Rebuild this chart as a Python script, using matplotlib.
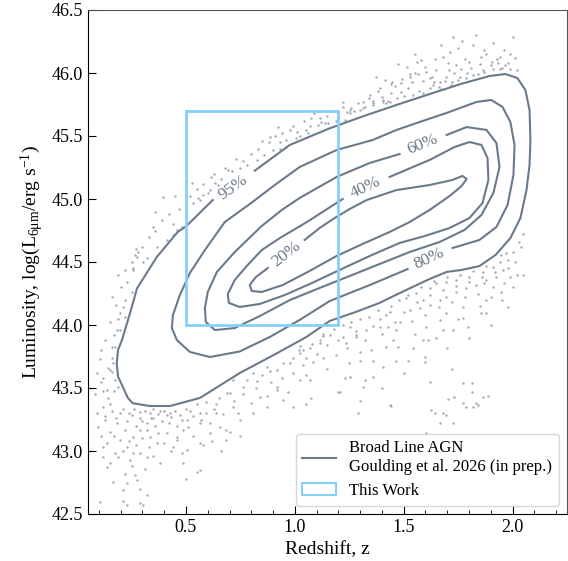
import matplotlib
matplotlib.use("Agg")
import matplotlib.pyplot as plt
import numpy as np
from matplotlib.lines import Line2D
from matplotlib.patches import Patch, Rectangle

plt.rcParams['font.family'] = ['Liberation Serif', 'DejaVu Serif']
plt.rcParams['mathtext.fontset'] = 'custom'
plt.rcParams['mathtext.rm'] = 'Liberation Serif'
plt.rcParams['mathtext.it'] = 'Liberation Serif:italic'

# broad line AGN lying outside the outer contour (redshift, log L6um)
sample_pts = [
    (1.726, 46.288), (2.001, 46.288), (1.769, 46.256), (1.550, 46.151), (1.714, 46.164), (1.871, 46.183),
    (1.986, 46.148), (1.940, 46.124), (1.473, 46.069), (1.517, 46.045), (1.561, 46.090), (1.646, 46.109),
    (1.703, 46.077), (1.802, 46.090), (1.856, 46.124), (1.906, 46.090), (1.932, 46.077), (1.963, 46.066),
    (1.371, 45.966), (1.412, 45.944), (1.446, 45.926), (1.486, 45.918), (1.527, 45.971), (1.565, 45.992),
    (1.604, 46.010), (1.619, 45.958), (1.665, 45.931), (1.695, 45.971), (1.733, 45.998), (1.764, 46.029),
    (1.817, 45.984), (1.863, 46.020), (1.909, 46.035), (1.940, 46.030), (1.344, 45.825), (1.313, 45.772),
    (1.359, 45.780), (1.405, 45.786), (1.428, 45.780), (1.489, 45.852), (1.542, 45.825), (1.588, 45.839),
    (1.634, 45.905), (1.672, 45.871), (1.718, 45.905), (1.749, 45.944), (1.787, 45.958), (1.260, 45.720),
    (1.298, 45.706), (1.221, 45.772), (1.252, 45.680), (1.229, 45.627),
    (1.20, 45.65), (1.24, 45.69), (1.27, 45.70), (1.29, 45.76), (1.32, 45.73), (1.34, 45.80), (1.36, 45.75),
    (1.38, 45.86), (1.40, 45.81), (1.42, 45.76), (1.44, 45.84), (1.46, 45.90), (1.47, 45.80), (1.49, 45.95),
    (1.50, 45.82), (1.52, 45.88), (1.54, 45.93), (1.55, 46.00), (1.57, 45.86), (1.59, 45.94), (1.60, 46.05),
    (1.62, 45.88), (1.63, 45.97), (1.65, 46.02), (1.66, 45.89), (1.68, 46.13), (1.69, 45.94), (1.71, 46.02),
    (1.72, 45.93), (1.74, 46.06), (1.75, 46.20), (1.76, 45.97), (1.78, 46.11), (1.79, 46.00), (1.81, 46.04),
    (1.82, 46.22), (1.84, 45.99), (1.85, 46.07), (1.87, 46.01), (1.88, 46.15), (1.90, 46.06), (1.91, 46.24),
    (1.93, 46.11), (1.95, 46.04), (1.96, 46.18), (1.98, 46.08), (1.99, 46.03), (2.01, 46.12), (2.02, 46.02),
    (1.67, 46.22), (1.58, 46.10), (1.83, 46.30), (1.64, 45.93), (1.53, 45.99), (1.44, 45.91), (1.39, 45.88),
    (0.923, 45.574), (0.977, 45.548), (0.885, 45.495), (0.931, 45.455), (0.900, 45.389), (0.961, 45.415),
    (1.022, 45.500), (1.061, 45.521), (1.106, 45.587), (1.137, 45.601), (1.114, 45.640), (1.076, 45.640),
    (1.007, 45.481), (0.931, 45.400), (1.053, 45.548), (1.152, 45.600), (0.824, 45.310), (0.778, 45.270),
    (0.747, 45.244), (0.694, 45.230), (0.617, 45.177), (0.633, 45.124), (0.610, 45.071), (0.648, 45.111),
    (0.556, 45.010), (0.533, 44.970), (0.579, 45.030), (1.221, 45.733), (1.252, 45.706), (1.313, 45.720),
    (1.359, 45.759), (1.405, 45.770), (1.435, 45.772),
    (0.30, 44.62), (0.33, 44.70), (0.36, 44.75), (0.39, 44.83), (0.42, 44.88), (0.44, 44.80), (0.47, 44.92),
    (0.50, 44.88), (0.52, 45.02), (0.55, 45.08), (0.58, 45.12), (0.60, 45.05), (0.63, 45.20), (0.66, 45.16),
    (0.68, 45.25), (0.71, 45.22), (0.73, 45.32), (0.76, 45.30), (0.80, 45.36), (0.83, 45.40), (0.86, 45.35),
    (0.88, 45.45), (0.91, 45.50), (0.94, 45.52), (0.96, 45.47), (0.99, 45.58), (1.01, 45.53), (1.04, 45.62),
    (1.07, 45.58), (1.09, 45.68), (1.12, 45.61), (1.15, 45.66), (1.17, 45.70), (1.19, 45.62), (0.27, 44.60),
    (0.36, 44.90), (0.45, 45.02), (0.85, 45.46),
    (0.396, 45.013), (0.350, 44.780), (0.365, 44.621), (0.273, 44.542), (0.319, 44.529), (0.258, 44.450),
    (0.441, 44.714), (0.411, 44.675), (0.480, 44.780), (0.457, 44.754), (0.526, 45.124), (0.564, 44.992),
    (0.266, 44.556), (0.304, 44.503), (0.258, 44.437), (0.250, 44.265), (0.220, 44.198), (0.220, 44.066),
    (0.195, 43.960), (0.174, 43.823), (0.105, 43.732), (0.159, 43.625), (0.189, 43.505), (0.120, 43.479),
    (0.12, 43.58), (0.14, 43.66), (0.16, 43.74), (0.13, 43.88), (0.17, 43.92), (0.15, 44.02), (0.19, 44.05),
    (0.18, 44.16), (0.21, 44.14), (0.16, 44.22), (0.20, 44.30), (0.23, 44.34), (0.22, 44.44), (0.25, 44.50),
    (0.28, 44.58), (0.19, 44.40), (0.11, 43.80), (0.09, 43.62), (0.08, 43.45), (0.14, 43.42), (0.17, 43.48),
    (0.11, 43.55),
    (0.151, 43.373), (0.128, 43.280), (0.197, 43.302), (0.250, 43.288), (0.289, 43.262), (0.334, 43.302),
    (0.380, 43.315), (0.426, 43.302), (0.472, 43.288), (0.518, 43.315), (0.564, 43.302), (0.640, 43.373),
    (0.701, 43.458), (0.762, 43.505), (0.824, 43.558), (0.885, 43.637), (0.916, 43.505), (0.977, 43.696),
    (1.038, 43.802), (1.114, 43.881), (1.053, 43.373), (0.870, 43.347), (1.022, 43.830), (1.129, 43.910),
    (0.098, 43.193), (0.136, 43.060), (0.151, 42.902), (0.166, 42.756), (0.105, 42.597), (0.212, 42.690),
    (0.228, 42.743), (0.273, 42.770), (0.266, 42.810), (0.289, 42.585), (0.319, 42.651), (0.304, 42.571),
    (0.182, 43.220), (0.220, 43.167), (0.197, 43.087), (0.228, 43.034), (0.258, 42.981), (0.258, 43.113),
    (0.289, 43.167), (0.319, 43.220), (0.334, 43.113), (0.365, 43.060), (0.411, 43.140), (0.457, 43.113),
    (0.487, 43.167), (0.480, 42.981), (0.487, 42.902), (0.549, 42.836), (0.564, 42.849), (0.564, 43.220),
    (0.610, 43.140), (0.656, 43.193), (0.701, 43.154), (0.686, 43.087), (0.747, 43.246), (0.808, 43.299),
    (0.946, 43.405), (0.916, 43.484), (0.839, 43.431), (0.717, 43.352), (0.640, 43.299), (0.120, 43.034),
    (0.136, 42.876), (0.174, 42.981), (0.243, 42.929), (0.289, 42.981), (0.441, 43.034), (0.350, 43.262),
    (0.411, 43.288), (0.564, 43.060), (0.503, 43.008), (0.380, 42.902), (0.319, 42.955), (0.151, 43.643),
    (0.136, 43.484), (0.120, 43.352), (0.174, 43.563), (0.159, 43.823), (0.182, 43.960), (0.197, 44.093),
    (0.166, 43.696),
    (0.16, 43.32), (0.18, 43.26), (0.21, 43.33), (0.23, 43.24), (0.24, 43.30), (0.26, 43.33), (0.27, 43.20),
    (0.29, 43.31), (0.30, 43.24), (0.31, 43.32), (0.32, 43.17), (0.34, 43.26), (0.35, 43.33), (0.36, 43.20),
    (0.37, 43.29), (0.39, 43.24), (0.40, 43.32), (0.42, 43.22), (0.43, 43.27), (0.45, 43.32), (0.46, 43.20),
    (0.48, 43.25), (0.50, 43.33), (0.51, 43.19), (0.53, 43.28), (0.55, 43.37), (0.57, 43.25), (0.59, 43.39),
    (0.61, 43.22), (0.63, 43.33), (0.65, 43.42), (0.67, 43.29), (0.69, 43.46), (0.72, 43.40), (0.74, 43.30),
    (0.76, 43.45), (0.78, 43.56), (0.80, 43.38), (0.82, 43.50), (0.85, 43.60), (0.87, 43.44), (0.89, 43.55),
    (0.92, 43.64), (0.94, 43.58), (0.97, 43.47), (0.99, 43.62),
    (0.17, 43.12), (0.21, 43.00), (0.24, 43.08), (0.27, 43.05), (0.30, 43.10), (0.33, 43.03), (0.37, 43.14),
    (0.40, 43.06), (0.43, 43.00), (0.46, 43.09), (0.25, 42.88), (0.22, 42.82), (0.19, 42.95), (0.31, 42.86),
    (0.35, 42.96), (0.15, 43.15), (0.13, 43.25), (0.11, 43.12), (0.12, 42.95), (0.09, 43.30), (0.53, 43.12),
    (0.58, 43.05), (0.62, 43.08), (0.75, 43.12), (0.66, 43.00), (0.50, 42.78), (0.29, 42.70), (0.21, 42.60),
    (0.23, 42.57),
    (1.191, 43.762), (1.229, 43.577), (1.252, 43.590), (1.198, 43.471), (1.321, 43.563), (1.290, 43.299),
    (1.443, 43.357), (1.519, 43.717), (1.596, 43.704), (1.627, 43.325), (1.642, 43.299), (1.680, 43.299),
    (1.695, 43.286), (1.665, 43.220), (1.726, 43.220), (1.703, 43.410), (1.729, 43.431), (1.772, 43.537),
    (1.815, 43.537), (1.815, 43.471), (1.833, 43.379), (1.840, 43.365), (1.886, 43.437), (1.787, 43.352),
    (1.726, 43.960), (1.772, 44.053), (1.856, 44.093), (1.879, 44.093), (1.794, 43.987), (1.978, 44.146),
    (1.359, 43.590), (1.473, 43.823), (1.604, 43.987), (1.680, 43.960), (1.612, 43.881), (1.542, 43.815),
    (1.466, 43.960), (1.420, 43.823), (1.359, 43.717), (1.298, 43.717), (1.237, 43.855), (1.283, 43.907),
    (1.221, 43.907), (1.328, 43.960), (1.389, 43.987), (1.428, 43.987), (1.481, 44.026), (1.527, 44.119),
    (1.573, 44.132), (1.619, 44.159), (1.665, 44.198), (1.695, 44.225), (1.741, 44.265), (1.787, 44.291),
    (1.833, 44.318), (1.879, 44.357), (1.925, 44.384), (1.955, 44.437), (1.986, 44.384), (1.978, 44.516),
    (1.971, 44.569), (1.948, 44.556), (1.909, 44.460), (1.863, 44.420), (1.802, 44.380), (1.741, 44.360),
    (1.695, 44.344), (1.619, 44.291), (1.558, 44.251), (1.512, 44.212), (1.588, 44.198), (1.650, 44.331),
    (1.909, 44.304), (1.948, 44.265), (1.871, 44.331), (2.040, 44.620), (2.010, 44.500), (2.050, 44.400),
    (2.000, 44.300), (2.05, 44.72), (2.03, 44.66),
    (1.02, 43.80), (1.05, 43.74), (1.08, 43.85), (1.10, 43.77), (1.13, 43.93), (1.15, 43.84), (1.18, 43.97),
    (1.20, 43.88), (1.22, 44.00), (1.24, 43.82), (1.26, 44.02), (1.28, 43.95), (1.30, 44.05), (1.32, 43.88),
    (1.34, 44.06), (1.36, 43.99), (1.38, 44.12), (1.40, 43.93), (1.42, 44.08), (1.44, 44.15), (1.46, 44.02),
    (1.48, 44.20), (1.50, 44.10), (1.52, 44.24), (1.54, 44.03), (1.56, 44.18), (1.58, 44.30), (1.60, 44.08),
    (1.62, 44.24), (1.64, 44.35), (1.66, 44.14), (1.68, 44.28), (1.70, 44.38), (1.72, 44.18), (1.74, 44.31),
    (1.76, 44.40), (1.78, 44.22), (1.80, 44.34), (1.82, 44.43), (1.84, 44.25), (1.86, 44.38), (1.88, 44.47),
    (1.90, 44.22), (1.92, 44.42), (1.94, 44.50), (1.96, 44.33), (1.98, 44.45), (2.00, 44.58), (2.02, 44.40),
    (1.75, 44.05), (1.65, 43.90), (1.55, 43.93), (1.45, 43.88), (1.85, 44.15), (1.95, 44.20), (1.35, 43.80),
    (1.25, 43.70), (1.15, 43.65), (1.05, 43.60), (1.50, 43.62), (1.60, 43.75), (1.70, 43.82), (1.80, 43.90),
    (1.90, 44.00), (1.40, 43.50), (1.30, 43.40), (1.62, 43.55), (1.72, 43.65),
    (1.252, 43.987), (1.283, 43.920), (1.298, 43.786), (1.389, 44.048), (1.435, 44.101), (1.160, 43.923),
    (1.114, 43.857), (1.068, 43.815), (1.022, 43.776), (1.038, 43.683), (0.992, 43.736), (1.084, 43.710),
    (1.129, 43.736), (1.022, 43.563), (1.068, 43.563), (1.313, 43.510), (1.206, 43.471), (1.076, 43.418),
    (1.435, 43.365), (1.405, 43.669), (1.466, 43.717), (1.588, 43.881), (1.665, 44.040), (1.695, 44.093),
    (1.772, 44.146), (1.879, 44.198), (1.772, 43.379), (1.817, 43.352), (1.604, 43.140), (1.863, 43.431),
    (0.717, 43.563), (0.808, 43.616), (0.870, 43.669), (0.946, 43.696), (0.992, 43.352), (0.686, 43.167),
    (0.594, 43.299), (0.503, 43.246),
]

# density contours (redshift, log L6um), each one opened where its label sits
c95 = [
    (0.816, 45.225), (0.977, 45.429), (1.160, 45.561), (1.311, 45.655), (1.466, 45.746), (1.619, 45.833),
    (1.770, 45.917), (1.894, 45.976), (1.967, 45.992), (2.022, 45.960), (2.059, 45.865), (2.078, 45.706),
    (2.082, 45.468), (2.078, 45.270), (2.064, 45.071), (2.036, 44.849), (1.990, 44.690), (1.922, 44.556),
    (1.848, 44.468), (1.766, 44.437), (1.697, 44.421), (1.619, 44.365), (1.541, 44.302), (1.463, 44.238),
    (1.389, 44.175), (1.284, 44.106), (1.160, 44.032), (1.055, 43.907), (0.917, 43.775), (0.747, 43.619),
    (0.564, 43.421), (0.426, 43.357), (0.334, 43.357), (0.256, 43.379), (0.233, 43.421), (0.206, 43.524),
    (0.188, 43.590), (0.182, 43.696), (0.188, 43.802), (0.206, 43.881), (0.243, 44.093), (0.275, 44.290),
    (0.367, 44.542), (0.463, 44.740), (0.500, 44.782), (0.623, 44.992),
]
c80 = [
    (1.724, 44.611), (1.848, 44.675), (1.926, 44.778), (1.977, 44.952), (2.004, 45.190), (2.009, 45.429),
    (1.990, 45.611), (1.954, 45.730), (1.903, 45.786), (1.834, 45.770), (1.697, 45.683), (1.573, 45.611),
    (1.467, 45.548), (1.357, 45.468), (1.192, 45.389), (1.022, 45.254), (0.908, 45.111), (0.793, 44.960),
    (0.678, 44.817), (0.587, 44.595), (0.518, 44.413), (0.472, 44.238), (0.440, 44.079), (0.435, 43.976),
    (0.458, 43.881), (0.518, 43.786), (0.610, 43.746), (0.747, 43.790), (0.885, 43.905), (1.022, 44.040),
    (1.160, 44.190), (1.344, 44.317), (1.518, 44.444),
]
c60 = [
    (1.697, 45.508), (1.789, 45.571), (1.880, 45.548), (1.926, 45.444), (1.940, 45.254), (1.912, 45.048),
    (1.857, 44.873), (1.779, 44.754), (1.665, 44.659), (1.527, 44.579), (1.389, 44.484), (1.252, 44.389),
    (1.114, 44.294), (0.977, 44.198), (0.839, 44.071), (0.724, 43.976), (0.633, 43.960), (0.591, 44.024),
    (0.587, 44.135), (0.600, 44.262), (0.642, 44.421), (0.724, 44.579), (0.848, 44.786), (0.940, 44.913),
    (1.022, 45.008), (1.192, 45.175), (1.344, 45.286), (1.481, 45.357),
]
c40 = [
    (1.435, 45.175), (1.619, 45.310), (1.734, 45.413), (1.802, 45.452), (1.857, 45.429), (1.885, 45.325),
    (1.889, 45.151), (1.862, 44.968), (1.802, 44.849), (1.711, 44.770), (1.596, 44.706), (1.481, 44.651),
    (1.344, 44.548), (1.206, 44.437), (1.068, 44.325), (0.954, 44.238), (0.839, 44.167), (0.747, 44.143),
    (0.697, 44.175), (0.692, 44.246), (0.724, 44.357), (0.779, 44.468), (0.848, 44.595), (0.931, 44.690),
    (1.055, 44.817), (1.220, 45.000),
]
c20 = [
    (1.045, 44.675), (1.114, 44.770), (1.183, 44.849), (1.252, 44.921), (1.330, 44.992), (1.467, 45.071),
    (1.619, 45.111), (1.724, 45.151), (1.770, 45.183), (1.789, 45.159), (1.766, 45.103), (1.711, 45.024),
    (1.619, 44.913), (1.527, 44.817), (1.435, 44.738), (1.311, 44.643), (1.192, 44.548), (1.068, 44.429),
    (0.944, 44.317), (0.848, 44.262), (0.802, 44.270), (0.793, 44.317), (0.821, 44.381), (0.876, 44.452),
]
contours = [c95, c80, c60, c40, c20]
contour_labels = ['95%', '80%', '60%', '40%', '20%']

# this work: selection window
box_z = (0.5, 1.2)
box_logL = (44.0, 45.7)

line_col = '#6b7a8b'
dot_col = '#8e99a8'
box_col = '#87cefa'

fig = plt.figure(figsize=(5.68, 5.61), dpi=100)
ax = fig.add_axes([88 / 568, 1 - 514 / 561, 479 / 568, 504 / 561])

pts = np.array(sample_pts)
ax.scatter(pts[:, 0], pts[:, 1], s=3, color=dot_col, lw=0, alpha=0.85, zorder=1)

for c in contours:
    c = np.array(c)
    ax.plot(c[:, 0], c[:, 1], color=line_col, lw=1.5, zorder=2)

# label spots along the contours
label_pos = [(0.715, 45.09, 35), (1.619, 44.53, 25), (1.587, 45.43, 22), (1.325, 45.09, 25), (0.959, 44.56, 38)]
for lab, (x, y, rot) in zip(contour_labels, label_pos):
    ax.text(x, y, lab, color=line_col, fontsize=12.5, rotation=rot, ha='center', va='center',
            rotation_mode='anchor', zorder=3)

ax.add_patch(Rectangle((box_z[0], box_logL[0]), box_z[1] - box_z[0], box_logL[1] - box_logL[0],
                       fill=False, ec=box_col, lw=2, zorder=2))

ax.set_xlim(0.05, 2.25)
ax.set_ylim(42.5, 46.5)
ax.set_xticks([0.5, 1.0, 1.5, 2.0])
ax.set_xticks(np.arange(0.1, 2.25, 0.1), minor=True)
ax.set_yticks(np.arange(42.5, 46.51, 0.5))
ax.set_yticklabels(['%.1f' % v for v in np.arange(42.5, 46.51, 0.5)])
ax.tick_params(axis='both', which='both', direction='in', labelsize=13)
ax.tick_params(which='major', length=6)
ax.tick_params(which='minor', length=3)
ax.spines['top'].set_color('#555555')
ax.spines['right'].set_color('#555555')

ax.set_xlabel('Redshift, z', fontsize=14)
ax.set_ylabel(r'Luminosity, log(L$_{\mathrm{6\mu m}}$/erg s$^{-1}$)', fontsize=14)

handles = [Line2D([], [], color=line_col, lw=1.5),
           Patch(facecolor='white', edgecolor=box_col, lw=1.5)]
ax.legend(handles, ['Broad Line AGN\nGoulding et al. 2026 (in prep.)', 'This Work'],
          loc='lower right', fontsize=12)

fig.savefig('out.png', dpi=100)
